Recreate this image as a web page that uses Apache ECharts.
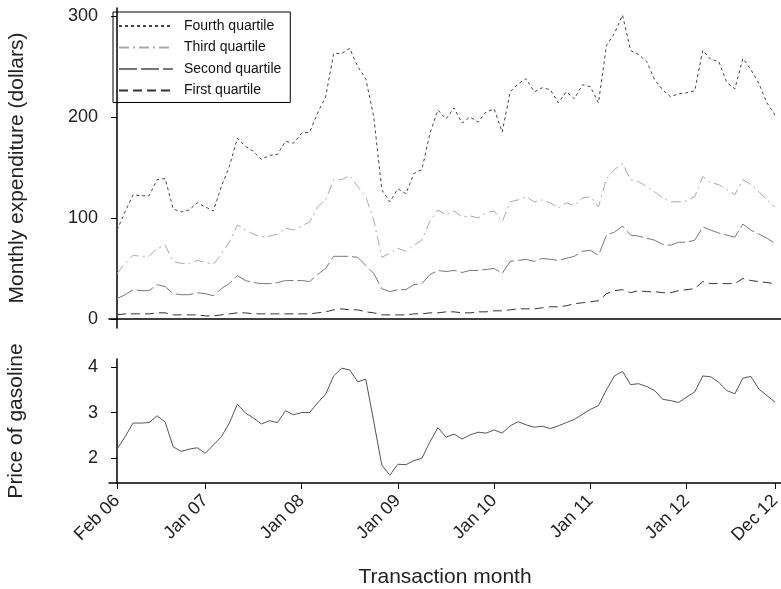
<!DOCTYPE html>
<html>
<head>
    <meta charset="utf-8">
    <title>Monthly expenditure and gasoline price</title>
    <script src="https://cdn.jsdelivr.net/npm/echarts@6/dist/echarts.min.js"></script>
    <style type="text/css">
        * {
            margin: 0px;
            padding: 0px;
        }

        #main {
            position: absolute;
            width: 781px;
            height: 589px;
            background: #fff;
        }
    </style>
</head>
<body>
<div id="main"></div>
<script type="text/javascript">
    // months Feb 06 .. Dec 12 (index 0..82)
    var tickIndex = [0, 11, 23, 35, 47, 59, 71, 82];
    var tickLabels = ['Feb 06', 'Jan 07', 'Jan 08', 'Jan 09', 'Jan 10', 'Jan 11', 'Jan 12', 'Dec 12'];

    var fourth = [88, 106, 123, 122, 122, 138, 139, 109, 106, 108, 115, 111, 107, 131, 151, 179, 171, 166, 158, 162,
        163, 176, 174, 184, 185, 204, 220, 263, 263, 268, 250, 238, 200, 128, 116, 129, 124, 144, 148, 184,
        207, 198, 209, 194, 200, 195, 205, 208, 185, 225, 233, 238, 225, 229, 227, 214, 225, 218, 232, 230,
        214, 271, 283, 301, 266, 262, 255, 237, 227, 220, 223, 224, 226, 266, 257, 255, 234, 228, 258, 247,
        233, 214, 202];
    var third = [45, 55, 63, 62, 62, 70, 73, 57, 55, 55, 58, 56, 54, 64, 76, 93, 88, 84, 81, 82,
        84, 90, 88, 92, 96, 111, 118, 138, 138, 142, 131, 121, 98, 61, 65, 70, 67, 73, 78, 97,
        108, 103, 107, 101, 102, 100, 105, 107, 96, 116, 118, 121, 116, 118, 115, 110, 115, 112, 120, 121,
        111, 139, 148, 154, 138, 136, 131, 126, 120, 116, 116, 117, 121, 141, 135, 133, 128, 123, 138, 133,
        126, 118, 111];
    var second = [20, 24, 29, 28, 28, 34, 32, 25, 24, 24, 26, 25, 23, 30, 35, 43, 38, 36, 35, 35,
        36, 38, 38, 38, 37, 44, 50, 62, 62, 62, 61, 53, 45, 30, 27, 29, 29, 34, 35, 44,
        48, 47, 48, 46, 48, 48, 49, 50, 45, 57, 58, 59, 57, 60, 59, 58, 60, 62, 67, 68,
        63, 83, 86, 92, 83, 82, 80, 78, 74, 73, 76, 76, 78, 91, 88, 85, 83, 81, 94, 88,
        84, 80, 75];
    var first = [4, 5, 5, 5, 5, 6, 6, 4, 4, 4, 4, 3, 3, 4, 5, 6, 6, 5, 5, 5,
        5, 5, 5, 5, 5, 6, 7, 9, 10, 9, 9, 7, 6, 4, 4, 4, 4, 5, 5, 6,
        6, 7, 7, 6, 6, 7, 7, 8, 8, 9, 10, 10, 10, 11, 12, 12, 13, 15, 16, 17,
        18, 25, 28, 29, 26, 28, 27, 27, 26, 26, 28, 29, 30, 37, 35, 35, 35, 35, 40, 38,
        37, 36, 35];
    var gasoline = [2.20, 2.47, 2.77, 2.77, 2.78, 2.93, 2.79, 2.25, 2.15, 2.20, 2.23, 2.11, 2.29, 2.47, 2.77, 3.18, 2.99, 2.88, 2.75, 2.82,
        2.78, 3.04, 2.95, 3.00, 3.00, 3.21, 3.40, 3.80, 3.97, 3.93, 3.67, 3.73, 2.80, 1.85, 1.63, 1.87, 1.86, 1.95, 2.00, 2.36,
        2.67, 2.46, 2.53, 2.42, 2.51, 2.57, 2.55, 2.62, 2.55, 2.71, 2.80, 2.73, 2.68, 2.70, 2.65, 2.71, 2.78, 2.85, 2.96, 3.07,
        3.15, 3.50, 3.80, 3.90, 3.61, 3.63, 3.57, 3.48, 3.29, 3.26, 3.22, 3.34, 3.45, 3.80, 3.78, 3.66, 3.48, 3.41, 3.75, 3.79,
        3.51, 3.37, 3.23];

    function pairs(arr) {
        return arr.map(function (v, i) { return [i, v]; });
    }

    var font = 'Liberation Sans, Arial, sans-serif';
    var myChart = echarts.init(document.getElementById('main'));

    var option = {
        animation: false,
        backgroundColor: '#fff',
        legend: {
            orient: 'vertical',
            left: 113,
            top: 12,
            padding: [7, 9, 5, 5],
            itemGap: 7.5,
            itemWidth: 54,
            itemHeight: 14,
            borderColor: '#000',
            borderWidth: 1,
            itemStyle: {opacity: 0},
            textStyle: {fontFamily: font, fontSize: 14, color: '#111', padding: [0, 0, 0, 6]},
            data: ['Fourth quartile', 'Third quartile', 'Second quartile', 'First quartile']
        },
        grid: [
            {left: 109, right: 0, top: 8, height: 320, outerBoundsMode: 'none'},
            {left: 109, right: 0, top: 359, height: 124, outerBoundsMode: 'none'}
        ],
        xAxis: [
            {
                type: 'value', gridIndex: 0, min: -1, max: 82.75,
                axisLine: {lineStyle: {color: '#000', width: 1.5}},
                axisTick: {show: false}, axisLabel: {show: false}, splitLine: {show: false}
            },
            {
                type: 'value', gridIndex: 1, min: -1, max: 82.75,
                axisLine: {onZero: false, lineStyle: {color: '#000', width: 1.5}},
                axisTick: {show: true, length: 6, lineStyle: {color: '#000'}, customValues: tickIndex},
                axisLabel: {
                    customValues: tickIndex, rotate: 45, margin: 15,
                    fontFamily: font, fontSize: 18, color: '#222',
                    formatter: function (v) { return tickLabels[tickIndex.indexOf(v)]; }
                },
                splitLine: {show: false},
                name: 'Transaction month', nameLocation: 'middle', nameGap: 84,
                nameTextStyle: {fontFamily: font, fontSize: 21, color: '#222'}
            }
        ],
        yAxis: [
            {
                type: 'value', gridIndex: 0, min: -9, max: 308,
                axisLine: {show: true, lineStyle: {color: '#000', width: 1.5}},
                axisTick: {show: true, length: 6, lineStyle: {color: '#000'}, customValues: [0, 100, 200, 300]},
                axisLabel: {customValues: [0, 100, 200, 300], fontFamily: font, fontSize: 18, color: '#222', margin: 11},
                splitLine: {show: false},
                name: 'Monthly expenditure (dollars)', nameLocation: 'middle', nameGap: 81,
                nameTextStyle: {fontFamily: font, fontSize: 21, color: '#222'}
            },
            {
                type: 'value', gridIndex: 1, min: 1.46, max: 4.17,
                axisLine: {show: true, lineStyle: {color: '#000', width: 1.5}},
                axisTick: {show: true, length: 6, lineStyle: {color: '#000'}, customValues: [2, 3, 4]},
                axisLabel: {customValues: [2, 3, 4], fontFamily: font, fontSize: 18, color: '#222', margin: 11},
                splitLine: {show: false},
                name: 'Price of gasoline', nameLocation: 'middle', nameGap: 82,
                nameTextStyle: {fontFamily: font, fontSize: 21, color: '#222'}
            }
        ],
        series: [
            {
                name: 'Fourth quartile', type: 'line', xAxisIndex: 0, yAxisIndex: 0,
                symbol: 'none', data: pairs(fourth),
                lineStyle: {color: '#444', width: 1, type: [3, 3]}, itemStyle: {color: '#444'}
            },
            {
                name: 'Third quartile', type: 'line', xAxisIndex: 0, yAxisIndex: 0,
                symbol: 'none', data: pairs(third),
                lineStyle: {color: '#aaa', width: 1, type: [10, 4, 2, 4]}, itemStyle: {color: '#aaa'}
            },
            {
                name: 'Second quartile', type: 'line', xAxisIndex: 0, yAxisIndex: 0,
                symbol: 'none', data: pairs(second),
                lineStyle: {color: '#777', width: 1, type: [18, 4]}, itemStyle: {color: '#777'}
            },
            {
                name: 'First quartile', type: 'line', xAxisIndex: 0, yAxisIndex: 0,
                symbol: 'none', data: pairs(first),
                lineStyle: {color: '#333', width: 1, type: [9, 5]}, itemStyle: {color: '#333'}
            },
            {
                name: 'Gasoline', type: 'line', xAxisIndex: 1, yAxisIndex: 1,
                symbol: 'none', data: pairs(gasoline),
                lineStyle: {color: '#555', width: 1}, itemStyle: {color: '#555'}
            }
        ]
    };

    myChart.setOption(option);
</script>
</body>
</html>
